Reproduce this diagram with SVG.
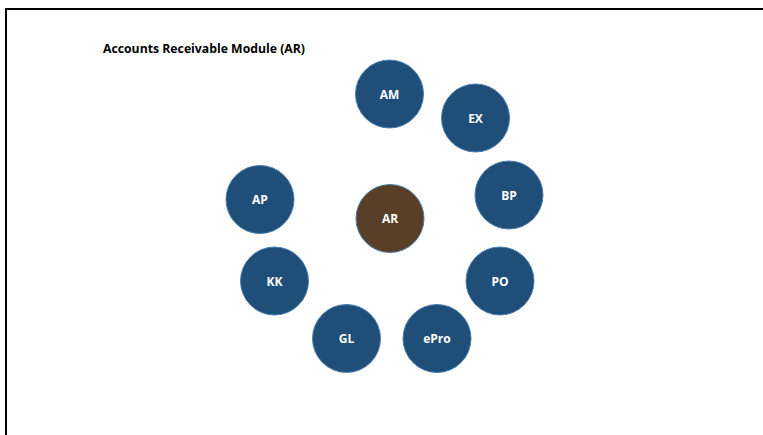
<svg xmlns="http://www.w3.org/2000/svg" width="763" height="435" viewBox="0 0 763 435">
<style>
.node{fill:#1F4E79;stroke:#4A7EB0;stroke-width:1}
.center{fill:#5A3F28;stroke:#4A7EB0;stroke-width:1}
.lbl{fill:#FFFFFF;font-family:"Open Sans","Liberation Sans",sans-serif;font-weight:bold;font-size:12px;text-anchor:middle;dominant-baseline:central}
.title{fill:#000000;font-family:"Open Sans","Liberation Sans",sans-serif;font-weight:bold;font-size:11.5px}
</style>
<rect width="763" height="435" fill="#FFFFFF"/>
<path d="M6 435 V9 H763" fill="none" stroke="#000000" stroke-width="2"/>
<text class="title" x="103" y="53" textLength="202" lengthAdjust="spacingAndGlyphs">Accounts Receivable Module (AR)</text>
<g id="connectors"></g>
<g id="node-AM"><circle class="node" cx="389.5" cy="94" r="34"/><text class="lbl" x="389.5" y="94">AM</text></g>
<g id="node-EX"><circle class="node" cx="475.5" cy="118" r="34"/><text class="lbl" x="475.5" y="118">EX</text></g>
<g id="node-BP"><circle class="node" cx="509" cy="195" r="34"/><text class="lbl" x="509" y="195">BP</text></g>
<g id="node-AP"><circle class="node" cx="260" cy="199.5" r="34"/><text class="lbl" x="260" y="199.5">AP</text></g>
<g id="node-AR"><circle class="center" cx="390" cy="218.5" r="34"/><text class="lbl" x="390" y="218.5">AR</text></g>
<g id="node-KK"><circle class="node" cx="274.5" cy="281" r="34"/><text class="lbl" x="274.5" y="281">KK</text></g>
<g id="node-PO"><circle class="node" cx="500" cy="281" r="34"/><text class="lbl" x="500" y="281">PO</text></g>
<g id="node-GL"><circle class="node" cx="346.5" cy="338.5" r="34"/><text class="lbl" x="346.5" y="338.5">GL</text></g>
<g id="node-ePro"><circle class="node" cx="437" cy="338.5" r="34"/><text class="lbl" x="437" y="338.5">ePro</text></g>
</svg>
